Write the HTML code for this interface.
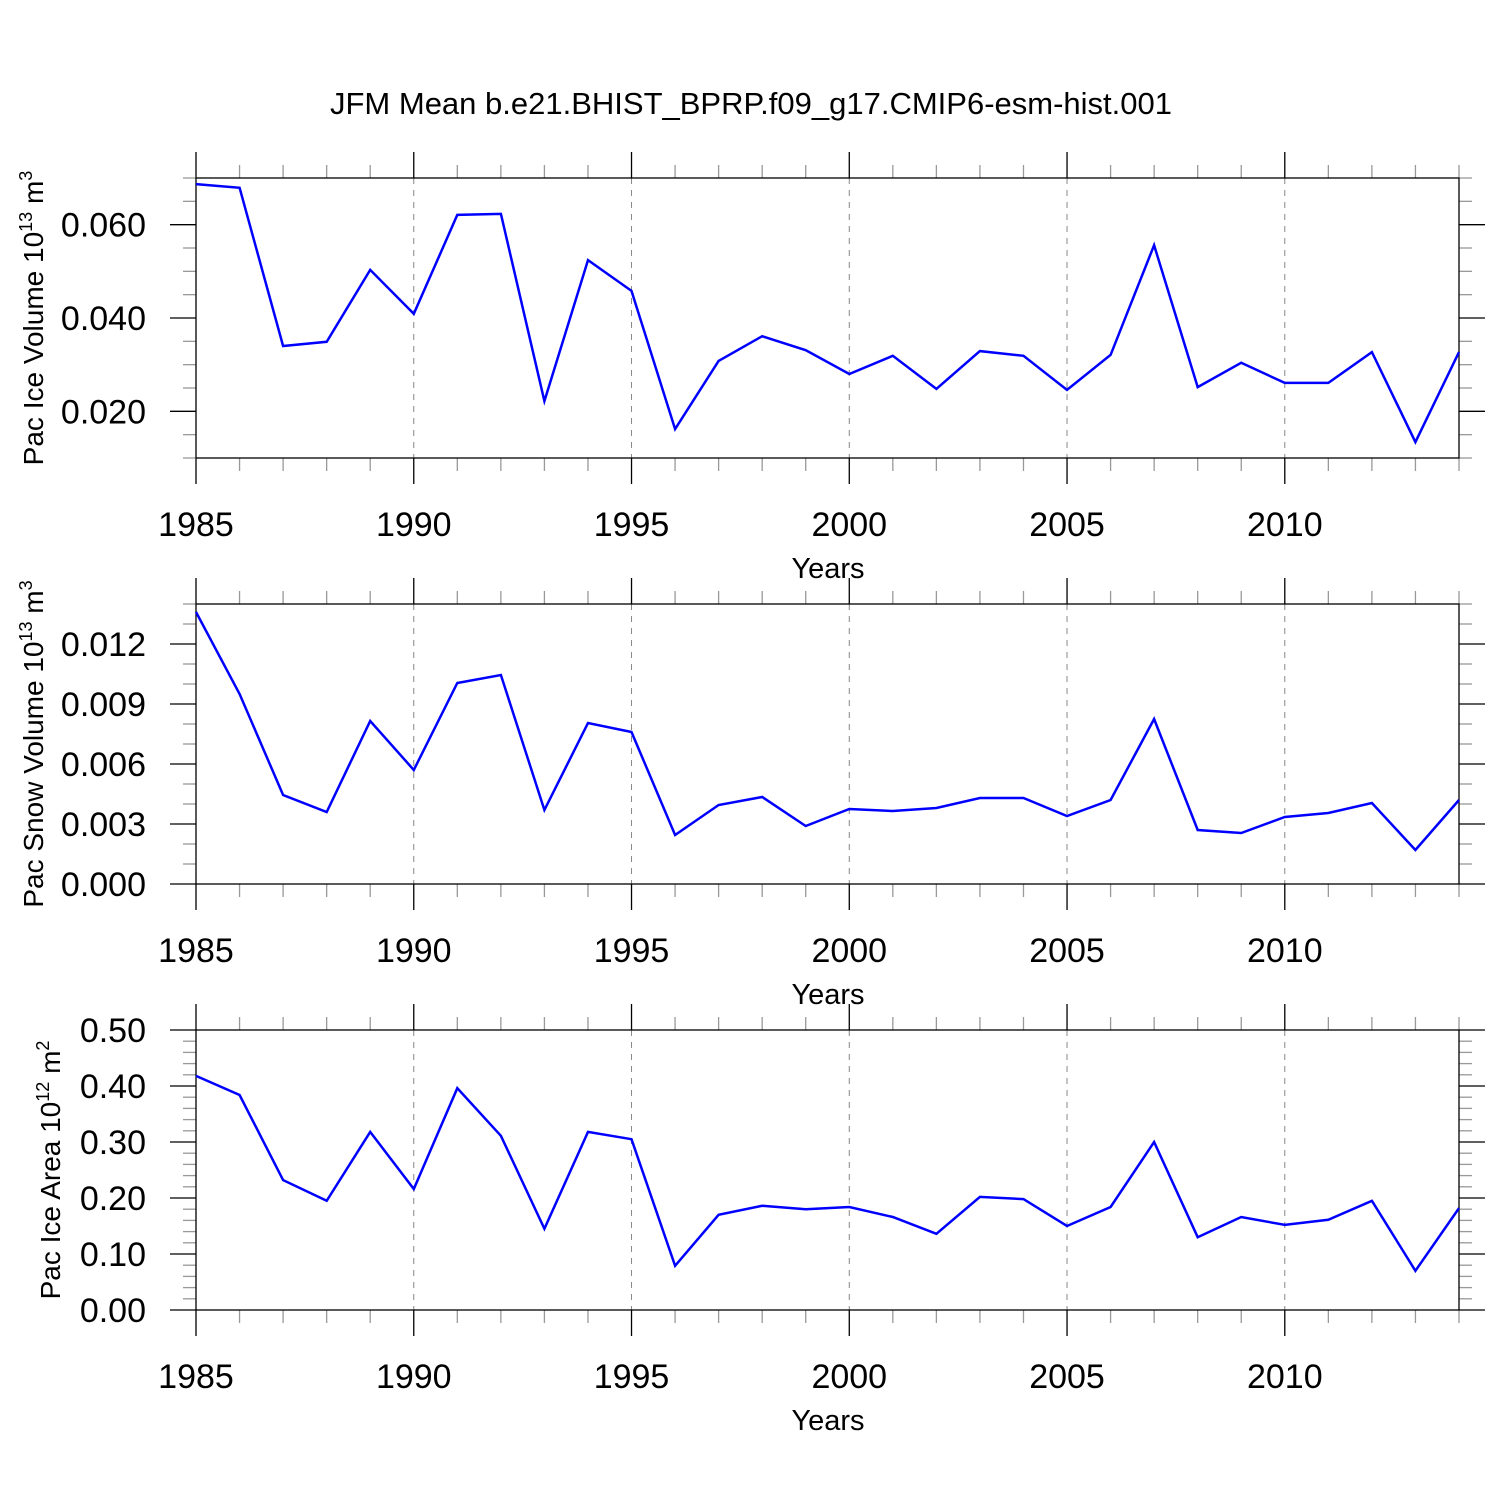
<!DOCTYPE html>
<html><head><meta charset="utf-8"><style>body{margin:0;background:#fff}svg text{font-family:"Liberation Sans",sans-serif;fill:#000}</style></head>
<body>
<svg id="s" width="1500" height="1500" viewBox="0 0 1500 1500">
<text x="751" y="114" font-size="31" text-anchor="middle">JFM Mean b.e21.BHIST_BPRP.f09_g17.CMIP6-esm-hist.001</text>
</svg>
<script>
const years=[1985,1986,1987,1988,1989,1990,1991,1992,1993,1994,1995,1996,1997,1998,1999,2000,2001,2002,2003,2004,2005,2006,2007,2008,2009,2010,2011,2012,2013,2014];
const iceVolume=[0.0687,0.0679,0.034,0.0349,0.0503,0.0409,0.0621,0.0623,0.0222,0.0524,0.0458,0.0162,0.0308,0.0361,0.0331,0.028,0.0319,0.0248,0.0329,0.0319,0.0246,0.0321,0.0556,0.0252,0.0304,0.0261,0.0261,0.0327,0.0134,0.0327];
const snowVolume=[0.0136,0.0095,0.00445,0.0036,0.00815,0.0057,0.01005,0.01045,0.0037,0.00805,0.0076,0.00245,0.00395,0.00435,0.0029,0.00375,0.00365,0.0038,0.0043,0.0043,0.0034,0.0042,0.00825,0.0027,0.00255,0.00335,0.00355,0.00405,0.0017,0.0042];
const iceArea=[0.418,0.384,0.232,0.195,0.318,0.216,0.396,0.311,0.145,0.318,0.305,0.079,0.17,0.186,0.18,0.184,0.166,0.136,0.202,0.198,0.15,0.184,0.3,0.13,0.166,0.152,0.161,0.195,0.07,0.182];
const xTicks=[1985,1990,1995,2000,2005,2010];
const iceTicks=["0.020","0.040","0.060"];
const snowTicks=["0.000","0.003","0.006","0.009","0.012"];
const areaTicks=["0.00","0.10","0.20","0.30","0.40","0.50"];
const NS="http://www.w3.org/2000/svg",svg=document.getElementById('s');
function mk(t,a,p){const e=document.createElementNS(NS,t);for(const k in a)e.setAttribute(k,a[k]);(p||svg).appendChild(e);return e;}
const X0=196,X1=1459;
function xs(y){return X0+(y-1985)*(X1-X0)/29;}
function panel(key,top,bot,ymin,ymax,data,ticks,minorStep,lab,sup,unit,supUnit,lx){
  const g=mk('g',{});
  
  
  const ys=v=>bot-(v-ymin)/(ymax-ymin)*(bot-top);
  for(const t of xTicks){if(t===1985)continue;const l=mk('line',{x1:xs(t),x2:xs(t),y1:top,y2:bot,stroke:'#888','stroke-width':1,'stroke-dasharray':'6,6'},g);}
  for(const y of years){const M=xTicks.includes(y),L=M?26:13,c=M?'#000':'#999';
    mk('line',{x1:xs(y),x2:xs(y),y1:top-L,y2:top,stroke:c,'stroke-width':1.3},g);
    mk('line',{x1:xs(y),x2:xs(y),y1:bot,y2:bot+L,stroke:c,'stroke-width':1.3},g);}
  const n=Math.round((ymax-ymin)/minorStep);
  const majors=ticks.map(Number);
  for(let i=0;i<=n;i++){const v=ymin+i*minorStep,M=majors.some(m=>Math.abs(m-v)<minorStep/10),L=M?26:13,c=M?'#000':'#999',y=ys(v);
    mk('line',{x1:X0-L,x2:X0,y1:y,y2:y,stroke:c,'stroke-width':1.3},g);
    mk('line',{x1:X1,x2:X1+L,y1:y,y2:y,stroke:c,'stroke-width':1.3},g);}
  const r=mk('rect',{x:X0,y:top,width:X1-X0,height:bot-top,fill:'none',stroke:'#000','stroke-width':1.3},g);
  
  for(const t of ticks){const e=mk('text',{x:146,y:ys(Number(t))+12,'font-size':34,'text-anchor':'end'},g);e.textContent=t;
    }
  for(const t of xTicks){const e=mk('text',{x:xs(t),y:bot+78,'font-size':34,'text-anchor':'middle'},g);e.textContent=t;
    }
  const xt=mk('text',{x:828,y:bot+120,'font-size':29,'text-anchor':'middle'},g);xt.textContent='Years';
  
  const yt=mk('text',{transform:`translate(${lx},${(top+bot)/2}) rotate(-90)`,'font-size':28,'text-anchor':'middle'},g);
  
  yt.innerHTML=`${lab}<tspan font-size="18" dy="-11">${sup}</tspan><tspan dy="11"> ${unit}</tspan><tspan font-size="18" dy="-11">${supUnit}</tspan>`;
  const pts=data.map((v,i)=>xs(years[i]).toFixed(1)+','+ys(v).toFixed(1)).join(' ');
  const pl=mk('polyline',{points:pts,fill:'none',stroke:'#0000ff','stroke-width':2.5,'stroke-linejoin':'miter'},g);
  
}
panel('ice-volume',178,458,0.01,0.07,iceVolume,iceTicks,0.005,'Pac Ice Volume 10','13','m','3',43);
panel('snow-volume',604,884,0,0.014,snowVolume,snowTicks,0.001,'Pac Snow Volume 10','13','m','3',43);
panel('ice-area',1030,1310,0,0.5,iceArea,areaTicks,0.02,'Pac Ice Area 10','12','m','2',60);
</script>
</body></html>
